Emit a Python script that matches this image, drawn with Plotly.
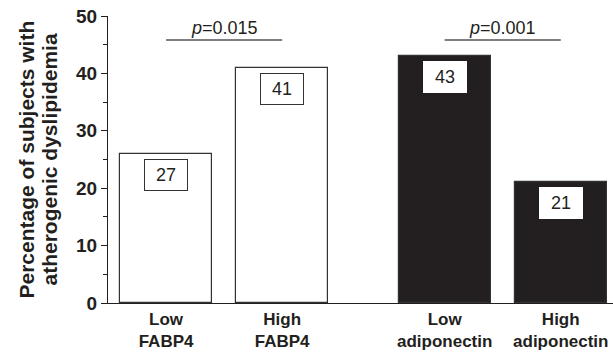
import plotly.graph_objects as go

categories = ["Low<br>FABP4", "High<br>FABP4", "Low<br>adiponectin", "High<br>adiponectin"]
x_positions = [0, 1, 2.4, 3.4]
bar_values = [26, 41, 43, 21]
value_labels = ["27", "41", "43", "21"]
bar_colors = ["white", "white", "#231f20", "#231f20"]
p_labels = ["<i>p</i>=0.015", "<i>p</i>=0.001"]
p_pairs = [(0, 1), (2, 3)]
p_level = 45.8
y_ticks = [0, 10, 20, 30, 40, 50]
y_title_lines = ["Percentage of subjects with", "atherogenic dyslipidemia"]

FONT = "Liberation Sans, Arial"
INK = "#231f20"

fig = go.Figure()
fig.add_trace(go.Bar(
    x=x_positions, y=bar_values, width=0.79,
    marker=dict(color=bar_colors, line=dict(color="#333333", width=1.2)),
    showlegend=False, hoverinfo="skip",
))

for i, (v, lab) in enumerate(zip(bar_values, value_labels)):
    boxed = bar_colors[i] == "white"
    fig.add_annotation(
        x=x_positions[i], y=v, yref="y", xref="x",
        text=lab, showarrow=False, yanchor="top", yshift=-5,
        font=dict(family=FONT, size=18, color=INK),
        bgcolor="white", bordercolor="#333333" if boxed else "white",
        borderwidth=1, borderpad=5, width=32,
    )

for (a, b), lab in zip(p_pairs, p_labels):
    fig.add_shape(type="line", x0=x_positions[a], x1=x_positions[b], y0=p_level, y1=p_level,
                  xref="x", yref="y", line=dict(color="#555555", width=1.5))
    fig.add_annotation(
        x=(x_positions[a] + x_positions[b]) / 2, y=p_level, yref="y", xref="x",
        text=lab, showarrow=False, yanchor="bottom", yshift=0,
        font=dict(family=FONT, size=18, color=INK),
    )

# y-axis title as two rotated lines with tight spacing
for line, shift in zip(y_title_lines, [-82, -59]):
    fig.add_annotation(
        x=0, y=0.5, xref="paper", yref="paper", xanchor="center", yanchor="middle",
        xshift=shift, text=line, textangle=-90, showarrow=False,
        font=dict(family=FONT, size=21, color=INK, weight="bold"),
    )

fig.update_layout(
    width=613, height=362,
    margin=dict(l=108, r=0, t=16, b=59),
    plot_bgcolor="white", paper_bgcolor="white",
    bargap=0,
    xaxis=dict(
        range=[-0.5, 3.85], tickmode="array", tickvals=x_positions, ticktext=categories,
        ticks="", showline=True, linecolor=INK, linewidth=1.2, showgrid=False,
        zeroline=False, automargin=False,
        tickfont=dict(family=FONT, size=17, color=INK, weight="bold"),
    ),
    yaxis=dict(
        range=[0, 50], tickvals=y_ticks, ticks="outside", ticklen=6, tickwidth=1,
        tickcolor=INK, showline=True, linecolor=INK, linewidth=1.2,
        showgrid=False, zeroline=False, automargin=False,
        minor=dict(tickvals=[5, 15, 25, 35, 45], ticks="outside", ticklen=4, tickcolor=INK),
        tickfont=dict(family=FONT, size=19, color=INK, weight="bold"),
    ),
)

# Remove the default page body margin so the figure sits at the window's top-left corner.
fig.write_html("out.html", config={"displayModeBar": False},
               post_script="document.body.style.margin='0';")
